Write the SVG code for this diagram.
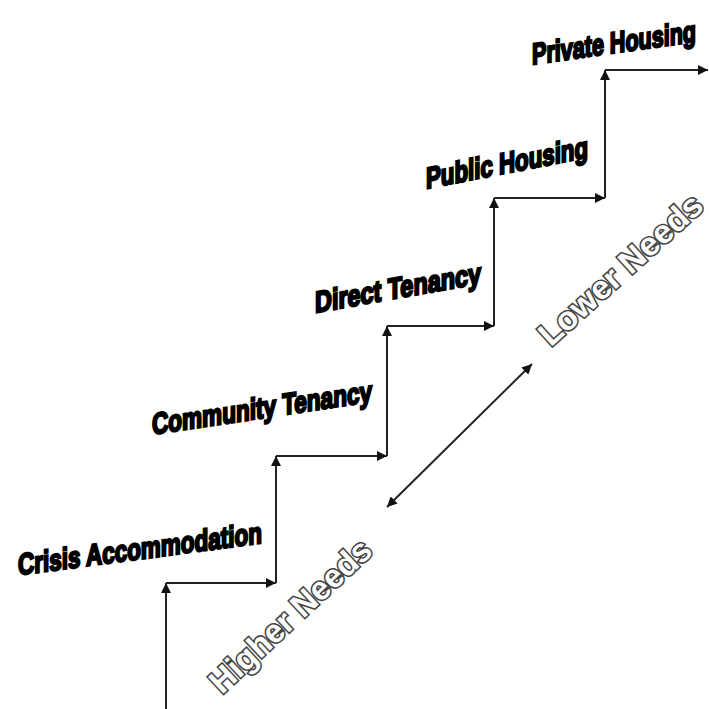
<svg xmlns="http://www.w3.org/2000/svg" width="709" height="709" viewBox="0 0 709 709">
<style>
.step{stroke:#222;stroke-width:2;fill:none;marker-end:url(#ah)}
.lbl{font-family:"Liberation Sans",Arial,sans-serif;font-weight:bold;font-size:22px;fill:#000;stroke:#000;stroke-width:1.7;text-anchor:middle}
.need{font-family:"Liberation Sans",Arial,sans-serif;font-weight:bold;font-size:33px;fill:#fff;stroke:#444;stroke-width:3.2;paint-order:stroke;text-anchor:middle}
</style>
<defs>
<marker id="ah" viewBox="0 0 10 10" refX="10" refY="5" markerWidth="11" markerHeight="10" markerUnits="userSpaceOnUse" orient="auto-start-reverse">
<path d="M0,0 L10,5 L0,10 z" fill="#111"/>
</marker>
</defs>
<rect width="709" height="709" fill="#fff"/>
<g id="connectors">
<line class="step" x1="166" y1="709" x2="166" y2="583"/>
<line class="step" x1="166" y1="583" x2="276" y2="583"/>
<line class="step" x1="276" y1="583" x2="276" y2="456"/>
<line class="step" x1="276" y1="456" x2="387" y2="456"/>
<line class="step" x1="387" y1="456" x2="387" y2="326"/>
<line class="step" x1="387" y1="326" x2="494" y2="326"/>
<line class="step" x1="494" y1="326" x2="494" y2="198"/>
<line class="step" x1="494" y1="198" x2="605" y2="198"/>
<line class="step" x1="605" y1="198" x2="605" y2="70"/>
<line class="step" x1="605" y1="70" x2="708" y2="70"/>
<line x1="387" y1="507" x2="532" y2="364" stroke="#222" stroke-width="2" marker-start="url(#ah)" marker-end="url(#ah)"/>
</g>
<g id="crisis"><text class="lbl" transform="translate(140,559) skewY(-7.5) scale(1,1.36)" textLength="244" lengthAdjust="spacingAndGlyphs">Crisis Accommodation</text></g>
<g id="community"><text class="lbl" transform="translate(262,418) skewY(-8.5) scale(1,1.36)" textLength="220" lengthAdjust="spacingAndGlyphs">Community Tenancy</text></g>
<g id="direct"><text class="lbl" transform="translate(398,298) skewY(-10) scale(1,1.36)" textLength="166" lengthAdjust="spacingAndGlyphs">Direct Tenancy</text></g>
<g id="public"><text class="lbl" transform="translate(507,173) skewY(-11) scale(1,1.36)" textLength="162" lengthAdjust="spacingAndGlyphs">Public Housing</text></g>
<g id="private"><text class="lbl" transform="translate(614,53) skewY(-8) scale(1,1.36)" textLength="164" lengthAdjust="spacingAndGlyphs">Private Housing</text></g>
<g id="higher"><text class="need" transform="translate(298,624) rotate(-43)" textLength="208" lengthAdjust="spacingAndGlyphs">Higher Needs</text></g>
<g id="lower"><text class="need" transform="translate(628,278) rotate(-42)" textLength="208" lengthAdjust="spacingAndGlyphs">Lower Needs</text></g>
</svg>
